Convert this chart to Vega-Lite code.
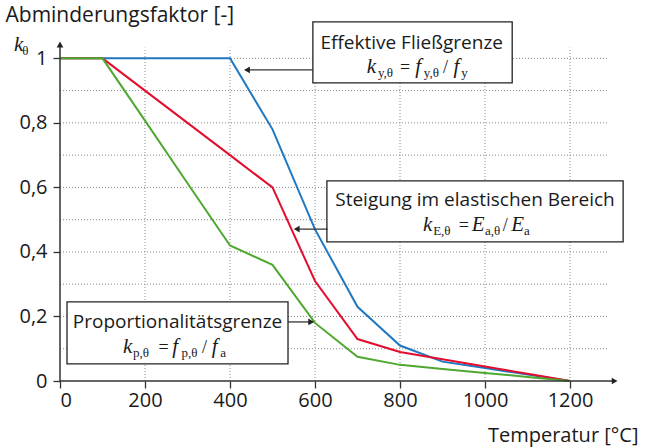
{
  "$schema": "https://vega.github.io/schema/vega-lite/v6.json",
  "width": 561,
  "height": 342,
  "autosize": {"type": "none"},
  "padding": {"left": 60, "top": 39, "right": 32, "bottom": 66},
  "background": "white",
  "config": {
    "view": {"stroke": null},
    "font": "Open Sans",
    "axis": {"labelFont": "Open Sans", "titleFont": "Open Sans", "labelColor": "#1a1a1a", "titleColor": "#1a1a1a", "titleFontWeight": "normal"}
  },
  "datasets": {
    "curves": [
      {"T": 0, "k": 1, "s": "ky"}, {"T": 100, "k": 1, "s": "ky"}, {"T": 200, "k": 1, "s": "ky"}, {"T": 300, "k": 1, "s": "ky"}, {"T": 400, "k": 1, "s": "ky"}, {"T": 500, "k": 0.78, "s": "ky"}, {"T": 600, "k": 0.47, "s": "ky"}, {"T": 700, "k": 0.23, "s": "ky"}, {"T": 800, "k": 0.11, "s": "ky"}, {"T": 900, "k": 0.06, "s": "ky"}, {"T": 1000, "k": 0.04, "s": "ky"}, {"T": 1100, "k": 0.02, "s": "ky"}, {"T": 1200, "k": 0, "s": "ky"},
      {"T": 0, "k": 1, "s": "kE"}, {"T": 100, "k": 1, "s": "kE"}, {"T": 200, "k": 0.9, "s": "kE"}, {"T": 300, "k": 0.8, "s": "kE"}, {"T": 400, "k": 0.7, "s": "kE"}, {"T": 500, "k": 0.6, "s": "kE"}, {"T": 600, "k": 0.31, "s": "kE"}, {"T": 700, "k": 0.13, "s": "kE"}, {"T": 800, "k": 0.09, "s": "kE"}, {"T": 900, "k": 0.0675, "s": "kE"}, {"T": 1000, "k": 0.045, "s": "kE"}, {"T": 1100, "k": 0.0225, "s": "kE"}, {"T": 1200, "k": 0, "s": "kE"},
      {"T": 0, "k": 1, "s": "kp"}, {"T": 100, "k": 1, "s": "kp"}, {"T": 200, "k": 0.807, "s": "kp"}, {"T": 300, "k": 0.613, "s": "kp"}, {"T": 400, "k": 0.42, "s": "kp"}, {"T": 500, "k": 0.36, "s": "kp"}, {"T": 600, "k": 0.18, "s": "kp"}, {"T": 700, "k": 0.075, "s": "kp"}, {"T": 800, "k": 0.05, "s": "kp"}, {"T": 900, "k": 0.0375, "s": "kp"}, {"T": 1000, "k": 0.025, "s": "kp"}, {"T": 1100, "k": 0.0125, "s": "kp"}, {"T": 1200, "k": 0, "s": "kp"}
    ],
    "gridv": [{"x": 200}, {"x": 400}, {"x": 600}, {"x": 800}, {"x": 1000}, {"x": 1200}],
    "gridh": [{"y": 0.1}, {"y": 0.2}, {"y": 0.3}, {"y": 0.4}, {"y": 0.5}, {"y": 0.6}, {"y": 0.7}, {"y": 0.8}, {"y": 0.9}, {"y": 1.0}],
    "boxes": [
      {"x1": 595, "x2": 1064, "y1": 1.113, "y2": 0.924},
      {"x1": 628, "x2": 1325, "y1": 0.62, "y2": 0.431},
      {"x1": 16.5, "x2": 536.5, "y1": 0.245, "y2": 0.053}
    ],
    "arrows": [
      {"x1": 595, "x2": 436, "y": 0.964},
      {"x1": 630, "x2": 554, "y": 0.471},
      {"x1": 536.5, "x2": 594, "y": 0.183}
    ],
    "heads": [
      {"x": 440, "y": 0.964, "dir": "left"},
      {"x": 557, "y": 0.471, "dir": "left"},
      {"x": 591, "y": 0.183, "dir": "right"},
      {"x": 1305, "y": 0, "dir": "right"},
      {"x": 0, "y": 1.043, "dir": "up"}
    ],
    "titles": [
      {"x": 827.5, "y": 1.029, "t": "Effektive Fließgrenze"},
      {"x": 976.5, "y": 0.543, "t": "Steigung im elastischen Bereich"},
      {"x": 276.5, "y": 0.163, "t": "Proportionalitätsgrenze"}
    ],
    "formula": [
      {"x": -108, "y": 1.023, "t": "k", "kind": "main"},
      {"x": -89, "y": 1.011, "t": "θ", "kind": "sub"},
      {"x": 722, "y": 0.955, "t": "k", "kind": "main"},
      {"x": 748, "y": 0.943, "t": "y,θ", "kind": "sub"},
      {"x": 800, "y": 0.955, "t": "=", "kind": "op"},
      {"x": 836, "y": 0.955, "t": "f", "kind": "main"},
      {"x": 856, "y": 0.943, "t": "y,θ", "kind": "sub"},
      {"x": 901, "y": 0.955, "t": "/", "kind": "op"},
      {"x": 926, "y": 0.955, "t": "f", "kind": "main"},
      {"x": 944, "y": 0.943, "t": "y", "kind": "sub"},
      {"x": 854, "y": 0.465, "t": "k", "kind": "main"},
      {"x": 878, "y": 0.453, "t": "E,θ", "kind": "sub"},
      {"x": 938, "y": 0.465, "t": "=", "kind": "op"},
      {"x": 969, "y": 0.465, "t": "E", "kind": "main"},
      {"x": 1000, "y": 0.453, "t": "a,θ", "kind": "sub"},
      {"x": 1042, "y": 0.465, "t": "/", "kind": "op"},
      {"x": 1062, "y": 0.465, "t": "E", "kind": "main"},
      {"x": 1092, "y": 0.453, "t": "a", "kind": "sub"},
      {"x": 148, "y": 0.087, "t": "k", "kind": "main"},
      {"x": 172, "y": 0.075, "t": "p,θ", "kind": "sub"},
      {"x": 232, "y": 0.087, "t": "=", "kind": "op"},
      {"x": 264, "y": 0.087, "t": "f", "kind": "main"},
      {"x": 286, "y": 0.075, "t": "p,θ", "kind": "sub"},
      {"x": 334, "y": 0.087, "t": "/", "kind": "op"},
      {"x": 357, "y": 0.087, "t": "f", "kind": "main"},
      {"x": 377, "y": 0.075, "t": "a", "kind": "sub"}
    ]
  },
  "layer": [
    {
      "data": {"name": "gridv"},
      "mark": {"type": "rule", "color": "#8a8a8a", "strokeDash": [1, 2], "strokeWidth": 1},
      "encoding": {
        "x": {"field": "x", "type": "quantitative", "scale": {"domain": [0, 1320], "nice": false, "zero": false},
          "axis": {"title": "Temperatur [°C]", "values": [0, 200, 400, 600, 800, 1000, 1200], "format": "d", "domain": false, "grid": false, "ticks": true, "tickSize": 7, "tickColor": "#333", "tickWidth": 1.3, "labelFontSize": 20, "labelPadding": 2, "titleFontSize": 20, "titleAnchor": "end", "titleAlign": "right", "titleBaseline": "alphabetic", "titleX": 578, "titleY": 60}},
        "y": {"datum": 0, "type": "quantitative", "scale": {"domain": [0, 1.06], "nice": false, "zero": false},
          "axis": {"title": "Abminderungsfaktor [-]", "values": [0, 0.2, 0.4, 0.6, 0.8, 1], "labelExpr": "datum.value == 0 ? '0' : datum.value == 1 ? '1' : replace(format(datum.value, '.1f'), '.', ',')", "domain": false, "grid": false, "ticks": true, "tickSize": 7, "tickColor": "#333", "tickWidth": 1.3, "labelFontSize": 20, "labelPadding": 6, "titleFontSize": 21, "titleAngle": 0, "titleAlign": "left", "titleBaseline": "alphabetic", "titleX": -55, "titleY": -18}},
        "y2": {"datum": 1.033}
      }
    },
    {
      "data": {"name": "gridh"},
      "mark": {"type": "rule", "color": "#8a8a8a", "strokeDash": [1, 2], "strokeWidth": 1},
      "encoding": {
        "y": {"field": "y", "type": "quantitative"},
        "x": {"datum": 0, "type": "quantitative"},
        "x2": {"datum": 1287}
      }
    },
    {
      "data": {"name": "curves"},
      "mark": {"type": "line", "strokeWidth": 2},
      "encoding": {
        "x": {"field": "T", "type": "quantitative"},
        "y": {"field": "k", "type": "quantitative"},
        "color": {"field": "s", "type": "nominal", "scale": {"domain": ["ky", "kE", "kp"], "range": ["#1f78c1", "#e30d2d", "#4ea82f"]}, "legend": null}
      }
    },
    {
      "data": {"values": [{}]},
      "mark": {"type": "rule", "color": "#333", "strokeWidth": 1.5},
      "encoding": {
        "x": {"datum": 0, "type": "quantitative"},
        "x2": {"datum": 1300},
        "y": {"datum": 0, "type": "quantitative"}
      }
    },
    {
      "data": {"values": [{}]},
      "mark": {"type": "rule", "color": "#333", "strokeWidth": 1.5},
      "encoding": {
        "x": {"datum": 0, "type": "quantitative"},
        "y": {"datum": 0, "type": "quantitative"},
        "y2": {"datum": 1.04}
      }
    },
    {
      "data": {"name": "boxes"},
      "mark": {"type": "rect", "fill": "white", "stroke": "#222", "strokeWidth": 1.3},
      "encoding": {
        "x": {"field": "x1", "type": "quantitative"},
        "x2": {"field": "x2"},
        "y": {"field": "y1", "type": "quantitative"},
        "y2": {"field": "y2"}
      }
    },
    {
      "data": {"name": "arrows"},
      "mark": {"type": "rule", "color": "#333", "strokeWidth": 1.3},
      "encoding": {
        "x": {"field": "x1", "type": "quantitative"},
        "x2": {"field": "x2"},
        "y": {"field": "y", "type": "quantitative"}
      }
    },
    {
      "data": {"name": "heads"},
      "mark": {"type": "point", "filled": true, "color": "#222", "size": 45, "opacity": 1},
      "encoding": {
        "x": {"field": "x", "type": "quantitative"},
        "y": {"field": "y", "type": "quantitative"},
        "shape": {"field": "dir", "type": "nominal", "scale": {"domain": ["left", "right", "up"], "range": ["triangle-left", "triangle-right", "triangle-up"]}, "legend": null}
      }
    },
    {
      "data": {"name": "titles"},
      "mark": {"type": "text", "font": "Open Sans", "fontSize": 19, "align": "center", "baseline": "alphabetic", "color": "#1a1a1a"},
      "encoding": {
        "x": {"field": "x", "type": "quantitative"},
        "y": {"field": "y", "type": "quantitative"},
        "text": {"field": "t"}
      }
    },
    {
      "data": {"name": "formula"},
      "transform": [{"filter": "datum.kind == 'main'"}],
      "mark": {"type": "text", "font": "Liberation Serif", "fontStyle": "italic", "fontSize": 21, "align": "left", "baseline": "alphabetic", "color": "#1a1a1a"},
      "encoding": {
        "x": {"field": "x", "type": "quantitative"},
        "y": {"field": "y", "type": "quantitative"},
        "text": {"field": "t"}
      }
    },
    {
      "data": {"name": "formula"},
      "transform": [{"filter": "datum.kind == 'sub'"}],
      "mark": {"type": "text", "font": "Liberation Serif", "fontSize": 13, "align": "left", "baseline": "alphabetic", "color": "#1a1a1a"},
      "encoding": {
        "x": {"field": "x", "type": "quantitative"},
        "y": {"field": "y", "type": "quantitative"},
        "text": {"field": "t"}
      }
    },
    {
      "data": {"name": "formula"},
      "transform": [{"filter": "datum.kind == 'op'"}],
      "mark": {"type": "text", "font": "Liberation Serif", "fontSize": 18, "align": "left", "baseline": "alphabetic", "color": "#1a1a1a"},
      "encoding": {
        "x": {"field": "x", "type": "quantitative"},
        "y": {"field": "y", "type": "quantitative"},
        "text": {"field": "t"}
      }
    }
  ]
}
